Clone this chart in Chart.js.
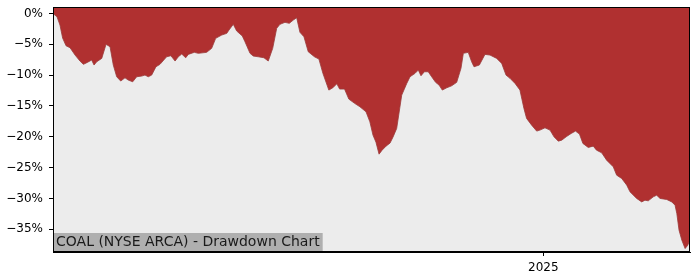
<!DOCTYPE html>
<html>
<head>
<meta charset="utf-8">
<script src="https://cdn.jsdelivr.net/npm/chart.js@4"></script>
<style>
  html, body { margin: 0; padding: 0; background: #ffffff; }
  #wrap { width: 700px; height: 280px; }
</style>
</head>
<body>
<div id="wrap"><canvas id="chart" width="700" height="280"></canvas></div>
<script>
// day offsets from the first session (2024-02-05), drawdown in %
const days = [0, 2.7, 4.7, 6.5, 8.8, 11.5, 14.9, 18.2, 20.5, 23.2, 26.1, 27.7, 29.5, 32.9, 35.8, 38.5,
  40.7, 43.0, 45.7, 48.6, 50.8, 53.8, 56.5, 59.9, 62.1, 64.3, 66.6, 69.5, 72.2, 76.7, 79.6, 82.4,
  84.6, 86.9, 89.6, 91.3, 95.4, 98.1, 103.7, 107.1, 109.8, 113.9, 117.3, 118.8, 121.7, 124.0, 127.8,
  129.6, 133.0, 135.2, 138.6, 142.4, 145.3, 148.3, 151.0, 153.2, 156.6, 159.5, 162.2, 164.5, 166.7,
  169.4, 172.3, 176.5, 179.5, 182.2, 186.2, 188.9, 191.6, 193.5, 196.8, 199.7, 203.6, 207.2, 211.3,
  213.9, 216.0, 218.0, 220.1, 222.1, 224.8, 227.5, 229.5, 232.0, 235.4, 238.8, 241.0, 244.4, 246.6,
  248.4, 250.7, 253.3, 255.6, 258.3, 260.6, 262.8, 265.8, 269.1, 272.5, 275.4, 277.0, 280.3, 282.6,
  284.2, 287.8, 291.6, 295.0, 299.5, 302.9, 305.8, 308.5, 311.9, 315.2, 317.9, 319.7, 323.1, 326.5,
  328.7, 332.1, 335.5, 338.2, 341.1, 343.4, 346.4, 349.8, 352.7, 355.4, 357.7, 361.3, 364.7, 366.9,
  370.4, 373.7, 378.2, 380.5, 383.9, 387.3, 389.5, 394.0, 397.4, 399.6, 401.8, 405.2, 407.5, 409.8,
  414.3, 417.7, 419.9, 421.1, 422.6, 424.5, 426.7, 428.5, 429.4];
const drawdown = [0, -0.52, -1.87, -3.98, -5.23, -5.55, -6.74, -7.71, -8.25, -7.93, -7.55, -8.36, -7.83, -7.28, -5.00, -5.39,
  -8.36, -10.26, -10.96, -10.43, -10.80, -11.08, -10.26, -10.15, -9.99, -10.26, -9.99, -8.64, -8.25, -7.02, -6.85, -7.71,
  -7.02, -6.58, -7.18, -6.63, -6.30, -6.46, -6.30, -5.65, -4.03, -3.49, -3.22, -2.68, -1.75, -2.84, -3.65,
  -4.58, -6.46, -6.90, -7.02, -7.18, -7.71, -5.65, -2.40, -1.75, -1.43, -1.59, -1.06, -0.68, -3.05,
  -3.77, -6.20, -7.02, -7.39, -9.71, -12.42, -12.05, -11.40, -12.26, -12.26, -13.89, -14.58, -15.14, -15.95,
  -17.57, -19.73, -20.87, -22.82, -22.19, -21.52, -21.03, -20.06, -18.65, -13.24, -11.34, -10.26, -9.71, -9.18,
  -10.10, -9.45, -9.45, -10.26, -11.17, -11.61, -12.42, -12.05, -11.73, -11.17, -8.90, -6.46, -6.30, -7.83,
  -8.64, -8.36, -6.63, -6.74, -7.28, -8.09, -9.99, -10.52, -11.34, -12.42, -15.40, -17.02, -18.11, -19.08,
  -18.92, -18.55, -18.92, -20.01, -20.71, -20.55, -20.01, -19.46, -19.08, -19.57, -21.08, -21.73, -21.52, -22.17,
  -22.61, -23.79, -24.88, -26.23, -26.77, -27.85, -28.94, -30.01, -30.57, -30.29, -30.40, -29.75, -29.48, -30.01,
  -30.18, -30.57, -31.10, -32.45, -35.16, -36.79, -38.14, -37.60, -37.06];

const yTicks = [0, -5, -10, -15, -20, -25, -30, -35];
const xTickDays = [331];
const xTickLabels = ["2025"];
const title = "COAL (NYSE ARCA) - Drawdown Chart";

const fontFamily = "'DejaVu Sans', sans-serif";

const plotDecor = {
  id: "plotDecor",
  beforeDatasetsDraw(chart) {
    const { ctx, chartArea: a } = chart;
    ctx.save();
    ctx.fillStyle = "#ececec";
    ctx.fillRect(a.left, a.top, a.right - a.left, a.bottom - a.top);
    ctx.restore();
  },
  afterDraw(chart) {
    const { ctx, chartArea: a } = chart;
    ctx.save();
    // title box
    ctx.font = "14px " + fontFamily;
    const w = ctx.measureText(title).width;
    ctx.fillStyle = "#afafaf";
    ctx.fillRect(a.left + 1, a.bottom - 19, w + 5, 18);
    ctx.fillStyle = "#1a1a1a";
    ctx.textBaseline = "middle";
    ctx.fillText(title, a.left + 3, a.bottom - 10);
    // frame
    ctx.strokeStyle = "#000000";
    ctx.lineWidth = 1;
    ctx.strokeRect(a.left + 0.5, a.top + 0.5, a.right - a.left - 1, a.bottom - a.top - 1);
    ctx.restore();
  }
};

const ctx = document.querySelector("#chart").getContext("2d");
const chart = new Chart(ctx, {
  type: "line",
  data: {
    datasets: [{
      label: "drawdown",
      data: days.map((d, i) => ({ x: d, y: drawdown[i] })),
      fill: "end",
      backgroundColor: "#b03030",
      borderColor: "#9a3a3a",
      borderWidth: 0.8,
      pointRadius: 0,
      tension: 0,
    }],
  },
  options: {
    responsive: false,
    animation: false,
    layout: { padding: { top: 7, right: 10, left: 0, bottom: 0 } },
    plugins: {
      legend: { display: false },
      tooltip: { enabled: false },
    },
    scales: {
      x: {
        type: "linear",
        min: 0,
        max: 430,
        afterBuildTicks(scale) {
          scale.ticks = xTickDays.map(v => ({ value: v }));
        },
        afterFit(scale) {
          scale.height = 28;
          scale.paddingLeft = 0;
          scale.paddingRight = 0;
        },
        ticks: {
          callback: (v) => xTickLabels[xTickDays.indexOf(v)] || "",
          color: "#000000",
          font: { family: fontFamily, size: 12 },
          padding: 5,
          maxRotation: 0,
        },
        grid: { drawOnChartArea: false, drawTicks: true, tickLength: 4, color: "#000000" },
        border: { display: true, color: "#000000" },
      },
      y: {
        min: -38.7,
        max: 1.06,
        afterBuildTicks(scale) {
          scale.ticks = yTicks.map(v => ({ value: v }));
        },
        afterFit(scale) {
          scale.width = 53;
          scale.paddingTop = 0;
          scale.paddingBottom = 0;
        },
        ticks: {
          callback: (v) => (v === 0 ? "0%" : "\u2212" + Math.abs(v) + "%"),
          color: "#000000",
          font: { family: fontFamily, size: 12 },
          padding: 6,
        },
        grid: { drawOnChartArea: false, drawTicks: true, tickLength: 4, color: "#000000" },
        border: { display: true, color: "#000000" },
      },
    },
  },
  plugins: [plotDecor],
});
</script>
</body>
</html>
